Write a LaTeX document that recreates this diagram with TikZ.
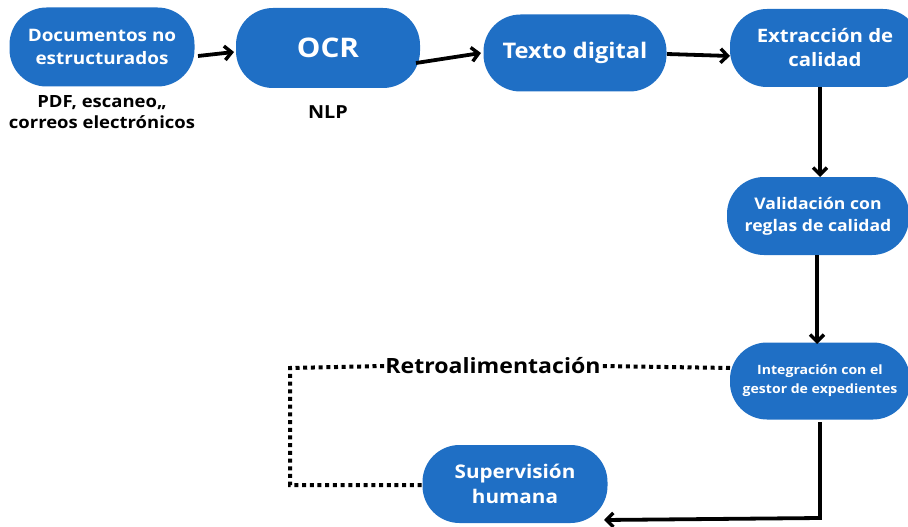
\documentclass[tikz,border=0pt]{standalone}
\usepackage{fontspec}
\setmainfont{Open Sans}[FakeStretch=1.1]
\usetikzlibrary{arrows.meta,calc}
\definecolor{boxblue}{RGB}{31,111,197}
\tikzset{
  box/.style={fill=boxblue, rounded corners=37pt, text=white, font=\bfseries, align=center, inner sep=0pt},
  flow/.style={line width=3.8pt, -{Straight Barb[length=7pt,width=14pt,line width=3.4pt]}},
  fb/.style={line width=4pt, dash pattern=on 4pt off 3.7pt},
  lbl/.style={font=\bfseries, align=center, inner sep=0pt}
}
\begin{document}
\begin{tikzpicture}[x=1pt,y=-1pt]
\useasboundingbox (0,0) rectangle (908,527);
\node[box, minimum width=185pt, minimum height=79pt, font=\bfseries\fontsize{17.2}{23}\selectfont] (doc) at (102,47) {Documentos no\\estructurados};
\node[box, minimum width=184pt, minimum height=80pt, font=\bfseries\fontsize{27}{30}\selectfont] (ocr) at (328,48) {OCR};
\node[box, minimum width=183pt, minimum height=77pt, font=\bfseries\fontsize{21.5}{26}\selectfont] (txt) at (575,53) {Texto digital};
\node[box, minimum width=190pt, minimum height=78pt, font=\bfseries\fontsize{18.5}{24}\selectfont] (ext) at (825,48) {Extracción de\\calidad};
\node[box, minimum width=182pt, minimum height=78pt, font=\bfseries\fontsize{16}{22}\selectfont] (val) at (818,216) {Validación con\\reglas de calidad};
\node[box, minimum width=180pt, minimum height=77pt, font=\bfseries\fontsize{12.8}{19}\selectfont] (int) at (820,381) {Integración con el\\gestor de expedientes};
\node[box, minimum width=185pt, minimum height=78pt, font=\bfseries\fontsize{18.8}{25}\selectfont] (sup) at (515,484) {Supervisión\\humana};

\node[lbl, font=\bfseries\fontsize{16.8}{21}\selectfont] (docl) at (102,112) {PDF, escaneo,,\\correos electrónicos};
\node[lbl, font=\bfseries\fontsize{18}{18}\selectfont] (nlp) at (328,112) {NLP};
\node[lbl, font=\bfseries\fontsize{21}{22}\selectfont, fill=white, inner xsep=1pt] (retro) at (493,366) {Retroalimentación};

\coordinate (a1) at (198,56); \coordinate (a2) at (234,52);
\coordinate (b1) at (416,63); \coordinate (b2) at (481,53);
\coordinate (c1) at (667,54); \coordinate (c2) at (730,56);
\coordinate (d1) at (820,87); \coordinate (d2) at (820,177);
\coordinate (e1) at (817,255); \coordinate (e2) at (817,344);
\coordinate (f1) at (820,422); \coordinate (f2) at (820,518); \coordinate (f3) at (604,520);
\coordinate (g1) at (730,368); \coordinate (g2) at (290,368); \coordinate (g3) at (290,485); \coordinate (g4) at (422,485);

\draw[fb] (g1) -- (retro.east);
\draw[fb] (retro.west) -- (g2) -- (g3) -- (g4);

\draw[flow] (a1) -- (a2);
\draw[flow] (b1) -- (b2);
\draw[flow] (c1) -- (c2);
\draw[flow] (d1) -- (d2);
\draw[flow] (e1) -- (e2);
\draw[flow] (f1) -- (f2) -- (f3);
\end{tikzpicture}
\end{document}
